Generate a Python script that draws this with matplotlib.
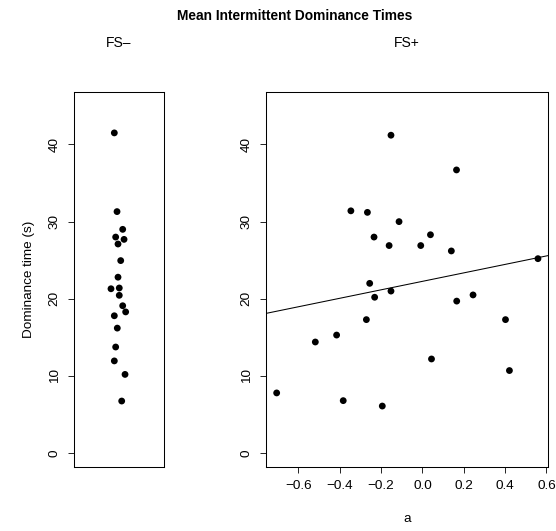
import matplotlib
matplotlib.use("Agg")
import matplotlib.pyplot as plt

plt.rcParams["font.family"] = ["Liberation Sans", "DejaVu Sans"]

# FS- group: dominance times and the horizontal jitter seen in the strip chart
fs_minus_time = [41.5, 31.3, 29.0, 28.0, 27.1, 27.7, 24.95, 22.8, 21.3, 21.4,
                 20.45, 19.1, 18.3, 17.8, 16.2, 13.75, 11.95, 10.2, 6.75]
fs_minus_jitter = [-0.052, -0.022, 0.041, -0.037, -0.011, 0.056, 0.019, -0.011,
                   -0.089, 0.003, 0.003, 0.041, 0.074, -0.052, -0.019, -0.037,
                   -0.052, 0.067, 0.030]

# FS+ group: parameter a vs dominance time
fs_plus_a = [-0.346, -0.266, -0.152, -0.113, -0.234, -0.161, -0.008, 0.039,
             0.165, 0.140, 0.559, -0.255, -0.152, -0.231, 0.166, 0.245,
             -0.271, -0.415, -0.518, -0.705, -0.383, -0.194, 0.044, 0.402, 0.421]
fs_plus_time = [31.4, 31.2, 41.2, 30.0, 28.0, 26.9, 26.9, 28.3,
                36.7, 26.2, 25.2, 22.0, 21.0, 20.2, 19.7, 20.5,
                17.3, 15.3, 14.4, 7.8, 6.8, 6.1, 12.2, 17.3, 10.7]

fit_intercept = 22.26
fit_slope = 5.49

y_ticks = [0, 10, 20, 30, 40]
x_ticks = [-0.6, -0.4, -0.2, 0.0, 0.2, 0.4, 0.6]

W, H = 556, 531
fig = plt.figure(figsize=(W / 100, H / 100), dpi=100)

ax1 = fig.add_axes([74 / W, (H - 467) / H, 90 / W, 375 / H])
ax2 = fig.add_axes([266 / W, (H - 467) / H, 282 / W, 375 / H])

fs = 9.7
for ax in (ax1, ax2):
    ax.set_ylim(-1.8, 46.8)
    ax.set_yticks(y_ticks)
    ax.set_yticklabels([str(t) for t in y_ticks], rotation=90, va="center")
    ax.tick_params(direction="out", length=4.5, width=0.6, labelsize=fs, pad=5)
    for sp in ax.spines.values():
        sp.set_linewidth(0.75)

ax1.scatter([1 + j for j in fs_minus_jitter], fs_minus_time, s=24, color="black",
            edgecolors="none", zorder=3)
ax1.set_xlim(0.5, 1.5)
ax1.set_xticks([])
ax1.set_ylabel("Dominance time (s)", fontsize=fs, labelpad=10)
ax1.text(0.5, 1.1315, "FS\u2013", transform=ax1.transAxes, ha="center",
         va="center", fontsize=10)

ax2.scatter(fs_plus_a, fs_plus_time, s=24, color="black", edgecolors="none",
            zorder=3)
ax2.axline((0, fit_intercept), slope=fit_slope, color="black", linewidth=0.75)
ax2.set_xlim(-0.7566, 0.6076)
ax2.set_xticks(x_ticks)
ax2.set_xticklabels([f"{t:.1f}".replace("-", "\u2212") for t in x_ticks])
ax2.set_xlabel("a", fontsize=fs, labelpad=15)
ax2.text(0.5, 1.1315, "FS+", transform=ax2.transAxes, ha="center",
         va="center", fontsize=10)

fig.text(295 / W, 1 - 16 / H, "Mean Intermittent Dominance Times",
         ha="center", va="center", fontsize=9.9, fontweight="bold")

fig.savefig("out.png", dpi=100)
